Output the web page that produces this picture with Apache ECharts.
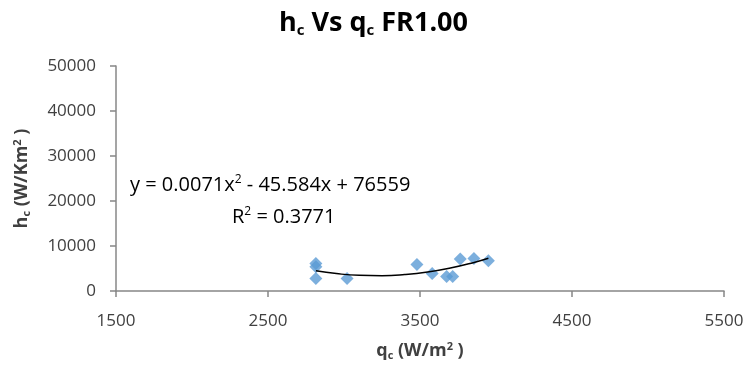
<!DOCTYPE html>
<html>
<head>
<meta charset="utf-8">
<script src="https://cdn.jsdelivr.net/npm/echarts@6/dist/echarts.min.js"></script>
<style>
  html, body { margin: 0; padding: 0; background: #fff; }
  #chart { width: 747px; height: 365px; }
</style>
</head>
<body>
<div id="chart"></div>
<script>
// measured points, q_c (W/m2) vs h_c (W/Km2)
const qc = [2815, 2815, 2815, 3020, 3480, 3580, 3675, 3715, 3765, 3855, 3950];
const hc = [6100, 5400, 2800, 2800, 5900, 3900, 3200, 3200, 7100, 7250, 6750];

// trendline
const trendX = [2815, 2950, 3100, 3250, 3400, 3550, 3700, 3850, 3950];
const trendY = [4500, 3870, 3480, 3400, 3650, 4210, 5100, 6300, 7280];

const xTicks = [1500, 2500, 3500, 4500, 5500];

const font = '"Open Sans", "Liberation Sans", sans-serif';
const axisGrey = '#878787';
const textColor = '#404040';

const chart = echarts.init(document.getElementById('chart'));

const nameRich = {
    b: { fontFamily: font, fontSize: 18, fontWeight: 'bold', color: textColor },
    s: { fontFamily: font, fontSize: 11, fontWeight: 'bold', color: textColor, padding: [9, 0, 0, 0] },
    p: { fontFamily: font, fontSize: 11, fontWeight: 'bold', color: textColor, padding: [0, 0, 9, 0] }
};

chart.setOption({
    animation: false,
    title: {
        text: '{b|h}{s|c}{b| Vs q}{s|c}{b| FR1.00}',
        left: 'center',
        top: 4,
        textStyle: {
            rich: {
                b: { fontFamily: font, fontSize: 27, fontWeight: 'bold', color: '#000' },
                s: { fontFamily: font, fontSize: 15, fontWeight: 'bold', color: '#000', padding: [14, 0, 0, 0] }
            }
        }
    },
    grid: { left: 116, right: 23, top: 66, bottom: 74, containLabel: false, outerBoundsMode: 'none' },
    xAxis: {
        type: 'value',
        min: 1500,
        max: 5500,
        name: '{b|q}{s|c}{b| (W/m}{p|2}{b| )}',
        nameLocation: 'middle',
        nameGap: 50,
        nameTextStyle: { rich: nameRich },
        axisLine: { lineStyle: { color: axisGrey, width: 1.5 } },
        axisTick: { show: true, length: 6, customValues: xTicks, lineStyle: { color: axisGrey, width: 1.5 } },
        axisLabel: { customValues: xTicks, margin: 22, fontFamily: font, fontSize: 17, color: textColor, formatter: v => String(v) },
        splitLine: { show: false }
    },
    yAxis: {
        type: 'value',
        min: 0,
        max: 50000,
        interval: 10000,
        name: '{b|h}{s|c}{b| (W/Km}{p|2}{b| )}',
        nameLocation: 'middle',
        nameGap: 84,
        nameRotate: 90,
        nameTextStyle: { rich: nameRich },
        axisLine: { show: true, lineStyle: { color: axisGrey, width: 1.5 } },
        axisTick: { show: true, length: 6, lineStyle: { color: axisGrey, width: 1.5 } },
        axisLabel: { margin: 20, fontFamily: font, fontSize: 17, color: textColor, formatter: v => String(v) },
        splitLine: { show: false }
    },
    series: [
        {
            type: 'line',
            data: trendX.map((x, i) => [x, trendY[i]]),
            smooth: true,
            symbol: 'none',
            lineStyle: { color: '#000', width: 1.5 },
            z: 3
        },
        {
            type: 'scatter',
            data: qc.map((x, i) => [x, hc[i]]),
            symbol: 'diamond',
            symbolSize: 13,
            itemStyle: { color: '#5b9bd5' },
            z: 2
        }
    ],
    graphic: [
        {
            type: 'text',
            left: 130,
            top: 174,
            style: {
                text: '{t|y = 0.0071x}{p|2}{t| - 45.584x + 76559}',
                rich: {
                    t: { fontFamily: font, fontSize: 20, fill: '#000' },
                    p: { fontFamily: font, fontSize: 12, fill: '#000', padding: [0, 0, 10, 0] }
                }
            }
        },
        {
            type: 'text',
            left: 232,
            top: 206,
            style: {
                text: '{t|R}{p|2}{t| = 0.3771}',
                rich: {
                    t: { fontFamily: font, fontSize: 20, fill: '#000' },
                    p: { fontFamily: font, fontSize: 12, fill: '#000', padding: [0, 0, 10, 0] }
                }
            }
        }
    ]
});
</script>
</body>
</html>
